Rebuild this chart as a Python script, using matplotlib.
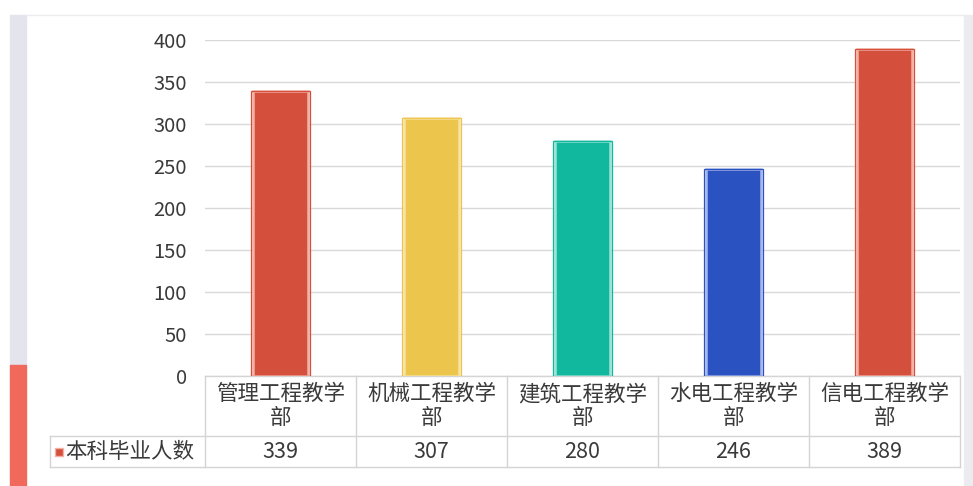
import matplotlib.pyplot as plt
from matplotlib.patches import Rectangle
from matplotlib.lines import Line2D

plt.rcParams['font.family'] = ['Noto Sans CJK SC', 'DejaVu Sans']

# 数据
categories = ['管理工程教学\n部', '机械工程教学\n部', '建筑工程教学\n部', '水电工程教学\n部', '信电工程教学\n部']
values = [339, 307, 280, 246, 389]
series_name = '本科毕业人数'
colors = ['#d4503c', '#ecc54c', '#12b89d', '#2a52c0', '#d4503c']
edge_light = ['#f3b2a6', '#f8e3a4', '#9de3d6', '#a9b8ea', '#f3b2a6']
yticks = [0, 50, 100, 150, 200, 250, 300, 350, 400]

W, H = 973, 486
fig = plt.figure(figsize=(W / 100, H / 100), dpi=100)
fig.patch.set_facecolor('white')

def fx(px):
    return px / W

def fy(py):
    return 1 - py / H

# 左侧、右侧装饰条
fig.patches.append(Rectangle((fx(10), fy(365)), fx(16), fy(15) - fy(365),
                             transform=fig.transFigure, color='#e3e4ec', zorder=0))
fig.patches.append(Rectangle((fx(10), 0), fx(16), fy(365),
                             transform=fig.transFigure, color='#f0695a', zorder=0))
fig.patches.append(Rectangle((fx(964), 0), fx(9), fy(15),
                             transform=fig.transFigure, color='#ececf0', zorder=0))
fig.lines.append(Line2D([fx(26), fx(964)], [fy(15), fy(15)], transform=fig.transFigure,
                        color='#ececec', lw=1))

left, right, top, bottom = 205, 960, 40, 376
ax = fig.add_axes([fx(left), fy(bottom), fx(right - left), fy(top) - fy(bottom)])
n = len(categories)
x = list(range(n))

ax.bar(x, values, width=0.37, color=colors, edgecolor=edge_light, linewidth=1.8, zorder=3)
ax.bar(x, values, width=0.385, facecolor='none', edgecolor=colors, linewidth=0.9, zorder=4)

fs = 14.5
fs_tab = 15.5
tc = '#3a3a3a'
ax.set_xlim(-0.5, n - 0.5)
ax.set_ylim(0, 400)
ax.set_yticks(yticks)
ax.set_xticks([])
ax.tick_params(axis='y', length=0, pad=13, labelsize=fs, labelcolor=tc)
ax.grid(axis='y', color='#d9d9d9', lw=1, zorder=0)
for s in ax.spines.values():
    s.set_visible(False)

# 数据表
ah = bottom - top
def ay(py):
    return (bottom - py) / ah

line_c = '#d4d4d4'
tr = ax.get_xaxis_transform()
xl = (50 - left) / (right - left)
kw = dict(color=line_c, lw=1, clip_on=False, transform=ax.transAxes)
ax.plot([0, 1], [ay(376), ay(376)], **kw)
ax.plot([xl, 1], [ay(436), ay(436)], **kw)
ax.plot([xl, 1], [ay(467), ay(467)], **kw)
for i in range(n + 1):
    ax.plot([i / n, i / n], [ay(376), ay(467)], **kw)
ax.plot([xl, xl], [ay(436), ay(467)], **kw)

for i, (c, v) in enumerate(zip(categories, values)):
    ax.text(i, ay(406), c, transform=tr, ha='center', va='center', fontsize=fs_tab,
            color=tc, linespacing=1.12, clip_on=False)
    ax.text(i, ay(452), str(v), transform=tr, ha='center', va='center', fontsize=fs_tab,
            color=tc, clip_on=False)

# 图例标记
xm = (55 - left) / (right - left)
ax.add_patch(Rectangle((xm, ay(456)), 8 / (right - left), ay(448) - ay(456), transform=ax.transAxes,
                       facecolor=colors[0], edgecolor='#f3b2a6', lw=1, clip_on=False))
ax.text((65 - left) / (right - left), ay(452), series_name, transform=ax.transAxes,
        ha='left', va='center', fontsize=fs_tab, color=tc, clip_on=False)

fig.savefig('out.png', dpi=100)
